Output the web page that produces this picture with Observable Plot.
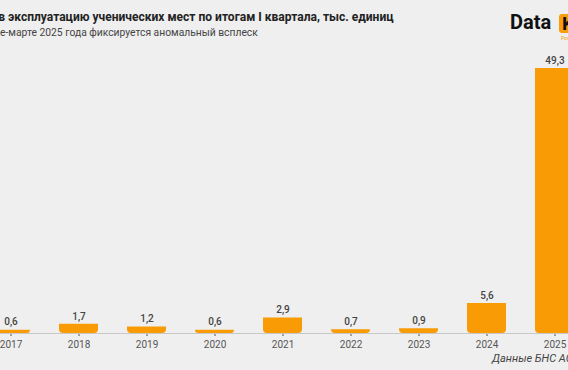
<!DOCTYPE html>
<html>
<head>
<meta charset="utf-8">
<script src="https://cdn.jsdelivr.net/npm/d3@7"></script>
<script src="https://cdn.jsdelivr.net/npm/@observablehq/plot@0.6"></script>
<style>
  html, body { margin: 0; padding: 0; }
  body { width: 568px; height: 370px; overflow: hidden; position: relative; background: #efefef; font-family: Roboto, "Noto Sans", sans-serif; }
  .title { position: absolute; left: 0; top: 10px; white-space: nowrap; font-weight: 700; font-size: 13px; color: #222; }
  .subtitle { position: absolute; left: 0; top: 26px; white-space: nowrap; font-size: 12px; color: #444; }
  .logo { position: absolute; left: 510px; top: 10px; white-space: nowrap; font-weight: 700; font-size: 20px; color: #111; }
  .logo .box { position: absolute; left: 49px; top: 4px; width: 30px; height: 19px; background: #f99d0a; border-radius: 3px; color: #111; font-size: 19px; line-height: 19px; padding-left: 3px; }
  .logo .sub { position: absolute; left: 51px; top: 25px; font-size: 5px; font-weight: 400; color: #f99d0a; }
  .caption { position: absolute; left: 492px; top: 352px; white-space: nowrap; font-style: italic; font-size: 11px; color: #444; }
  #chart { position: absolute; left: -41px; top: 40px; width: 646px; }
  #chart svg { max-width: none !important; }
</style>
</head>
<body>
<div class="title" id="title"><span class="hid">Введено в </span><span class="vis">эксплуатацию ученических мест по итогам I квартала, тыс. единиц</span></div>
<div class="subtitle" id="subtitle"><span class="hid">В январ</span><span class="vis">е-марте 2025 года фиксируется аномальный всплеск</span></div>
<div class="logo">Data<span class="box">K</span><span class="sub">Powered</span></div>
<div id="chart"></div>
<div class="caption">Данные БНС АСПиР РК</div>
<script>
const years = ["2017", "2018", "2019", "2020", "2021", "2022", "2023", "2024", "2025"];
const values = [0.6, 1.7, 1.2, 0.6, 2.9, 0.7, 0.9, 5.6, 49.3];

const data = years.map((y, i) => ({year: y, value: values[i]}));
const fmt = v => v.toFixed(1).replace(".", ",");

const chart = Plot.plot({
  width: 646,
  height: 330,
  marginLeft: 0,
  marginRight: 0,
  marginTop: 28,
  marginBottom: 37,
  style: {background: "transparent", fontFamily: "Roboto, 'Noto Sans', sans-serif", fontSize: "10px", color: "#555"},
  x: {domain: years, padding: 0.43, label: null, tickSize: 3, tickPadding: 4},
  y: {axis: null},
  marks: [
    Plot.barY(data, {x: "year", y: "value", fill: "#f99b05", ry2: 4}),
    Plot.ruleY([0], {stroke: "#c8c8c8", strokeWidth: 1}),
    Plot.text(data, {x: "year", y: "value", text: d => fmt(d.value), dy: -8, fontSize: 10, fill: "#444", fontWeight: 500})
  ]
});
document.getElementById("chart").appendChild(chart);

// fit the visible part of a cropped heading to the span it covers in the picture
function fit(id, x0, x1) {
  const el = document.getElementById(id);
  const vis = el.querySelector(".vis");
  const f = parseFloat(getComputedStyle(el).fontSize);
  const w = vis.getBoundingClientRect().width;
  el.style.fontSize = (f * (x1 - x0) / w) + "px";
  const r = vis.getBoundingClientRect();
  const er = el.getBoundingClientRect();
  el.style.left = (x0 - (r.left - er.left)) + "px";
}
fit("title", 8, 394);
fit("subtitle", 0, 258);
</script>
</body>
</html>
